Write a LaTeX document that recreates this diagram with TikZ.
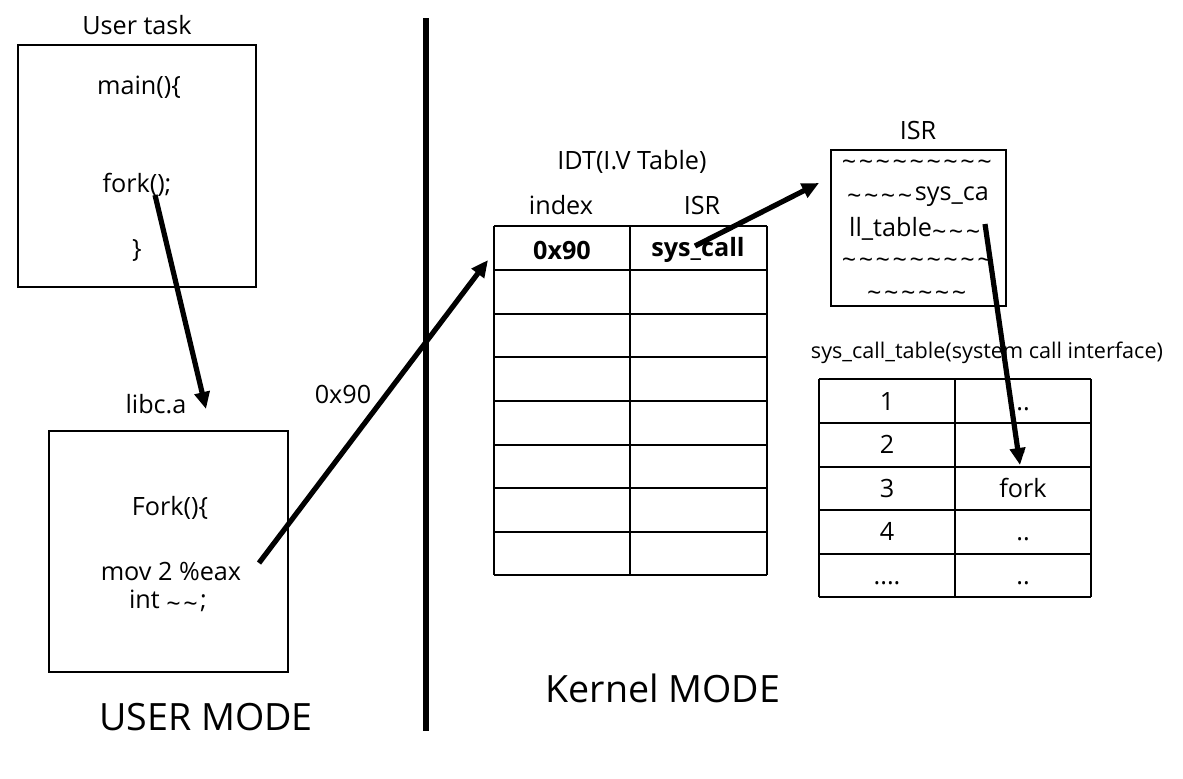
\documentclass[tikz,border=0pt]{standalone}
\usepackage{fontspec}
\setmainfont{Open Sans}
\usetikzlibrary{arrows.meta}
\newcommand{\tl}{\raisebox{-0.16em}{\textasciitilde}\kern0.1em}
\begin{document}
\begin{tikzpicture}[x=0.5pt,y=-0.5pt,
  txt/.style={inner sep=0pt,font=\fontsize{12.6}{15}\selectfont},
  celltxt/.style={txt,text height=0.72em,text depth=0.2em},
  boldtxt/.style={inner sep=0pt,font=\fontsize{12.6}{15}\selectfont\bfseries},
  big/.style={inner sep=0pt,font=\fontsize{18.8}{22}\selectfont},
  small/.style={inner sep=0pt,font=\fontsize{10.8}{13}\selectfont},
  boxline/.style={line width=1pt},
  cell/.style={line width=0.8pt},
  arr/.style={line width=2.6pt,-{Triangle[length=8.5pt,width=7.5pt]}},
]
\useasboundingbox (0,0) rectangle (1183,778);
% user task box
\node[txt] (utlabel) at (137,25) {User task};
\draw[boxline] (18,45) rectangle (256,287);
\node[txt] (main) at (139,87) {main()\{};
\node[txt] (fork) at (137,185) {fork();};
\node[txt] (close) at (137,250) {\}};
% libc box
\node[txt] (libc) at (156,404) {libc.a};
\draw[boxline] (49,431) rectangle (288,672);
\node[txt] (Fork) at (170,508) {Fork()\{};
\node[txt] (mov) at (171,571) {mov 2 \%eax};
\node[txt] (int) at (168,601) {int \tl\tl;};
\node[big] (umode) at (206,717) {USER MODE};
\node[big] (kmode) at (663,688) {Kernel MODE};
\node[txt] (hex) at (343,394) {0x90};
% divider
\draw[line width=3pt] (426,18) -- (426,731);
% IDT
\node[txt] (idt) at (632,162) {IDT(I.V Table)};
\node[txt] (idx) at (561,205) {index};
\node[txt] (isrh) at (702,205) {ISR};
\foreach \y in {226,270,314,357,401,445,488,532,575}
  \draw[cell] (494,\y) -- (767,\y);
\draw[cell] (494,226) -- (494,575);
\draw[cell] (630,226) -- (630,575);
\draw[cell] (767,226) -- (767,575);
\node[boldtxt] (v90) at (562,250) {0x90};
\node[boldtxt] (sc) at (698,250) {sys\_call};
% ISR box
\node[txt] (isrl) at (918,130) {ISR};
\draw[boxline] (831,150) rectangle (1006,306);
\node[txt] (l1) at (918,165) {\tl\tl\tl\tl\tl\tl\tl\tl\tl};
\node[txt] (l2) at (918,197) {\tl\tl\tl\tl sys\_ca};
\node[txt] (l3) at (916,229) {ll\_table\tl\tl\tl};
\node[txt] (l4) at (918,263) {\tl\tl\tl\tl\tl\tl\tl\tl\tl};
\node[txt] (l5) at (918,296) {\tl\tl\tl\tl\tl\tl};
% sys call table
\node[small] (sctl) at (987,353) {sys\_call\_table(system call interface)};
\foreach \y in {379,423,467,510,554,597}
  \draw[cell] (819,\y) -- (1091,\y);
\draw[cell] (819,379) -- (819,597);
\draw[cell] (955,379) -- (955,597);
\draw[cell] (1091,379) -- (1091,597);
\node[celltxt] (n1) at (887,405) {1};
\node[celltxt] (n2) at (887,448) {2};
\node[celltxt] (n3) at (887,492) {3};
\node[celltxt] (n4) at (887,535) {4};
\node[celltxt] (n5) at (887,579) {....};
\node[celltxt] (c1) at (1023,405) {..};
\node[celltxt] (c2) at (1023,448) {.};
\node[celltxt] (c3) at (1023,492) {fork};
\node[celltxt] (c4) at (1023,535) {..};
\node[celltxt] (c5) at (1023,579) {..};
% arrow endpoints
\coordinate (a1s) at (155,195);
\coordinate (a1e) at (206,409);
\coordinate (a2s) at (259,563);
\coordinate (a2e) at (488,260);
\coordinate (a3s) at (695,246);
\coordinate (a3e) at (819,183);
\coordinate (a4s) at (985,224);
\coordinate (a4e) at (1020,465);
\draw[arr] (a1s) -- (a1e);
\draw[arr] (a2s) -- (a2e);
\draw[arr] (a3s) -- (a3e);
\draw[arr] (a4s) -- (a4e);
\end{tikzpicture}
\end{document}
